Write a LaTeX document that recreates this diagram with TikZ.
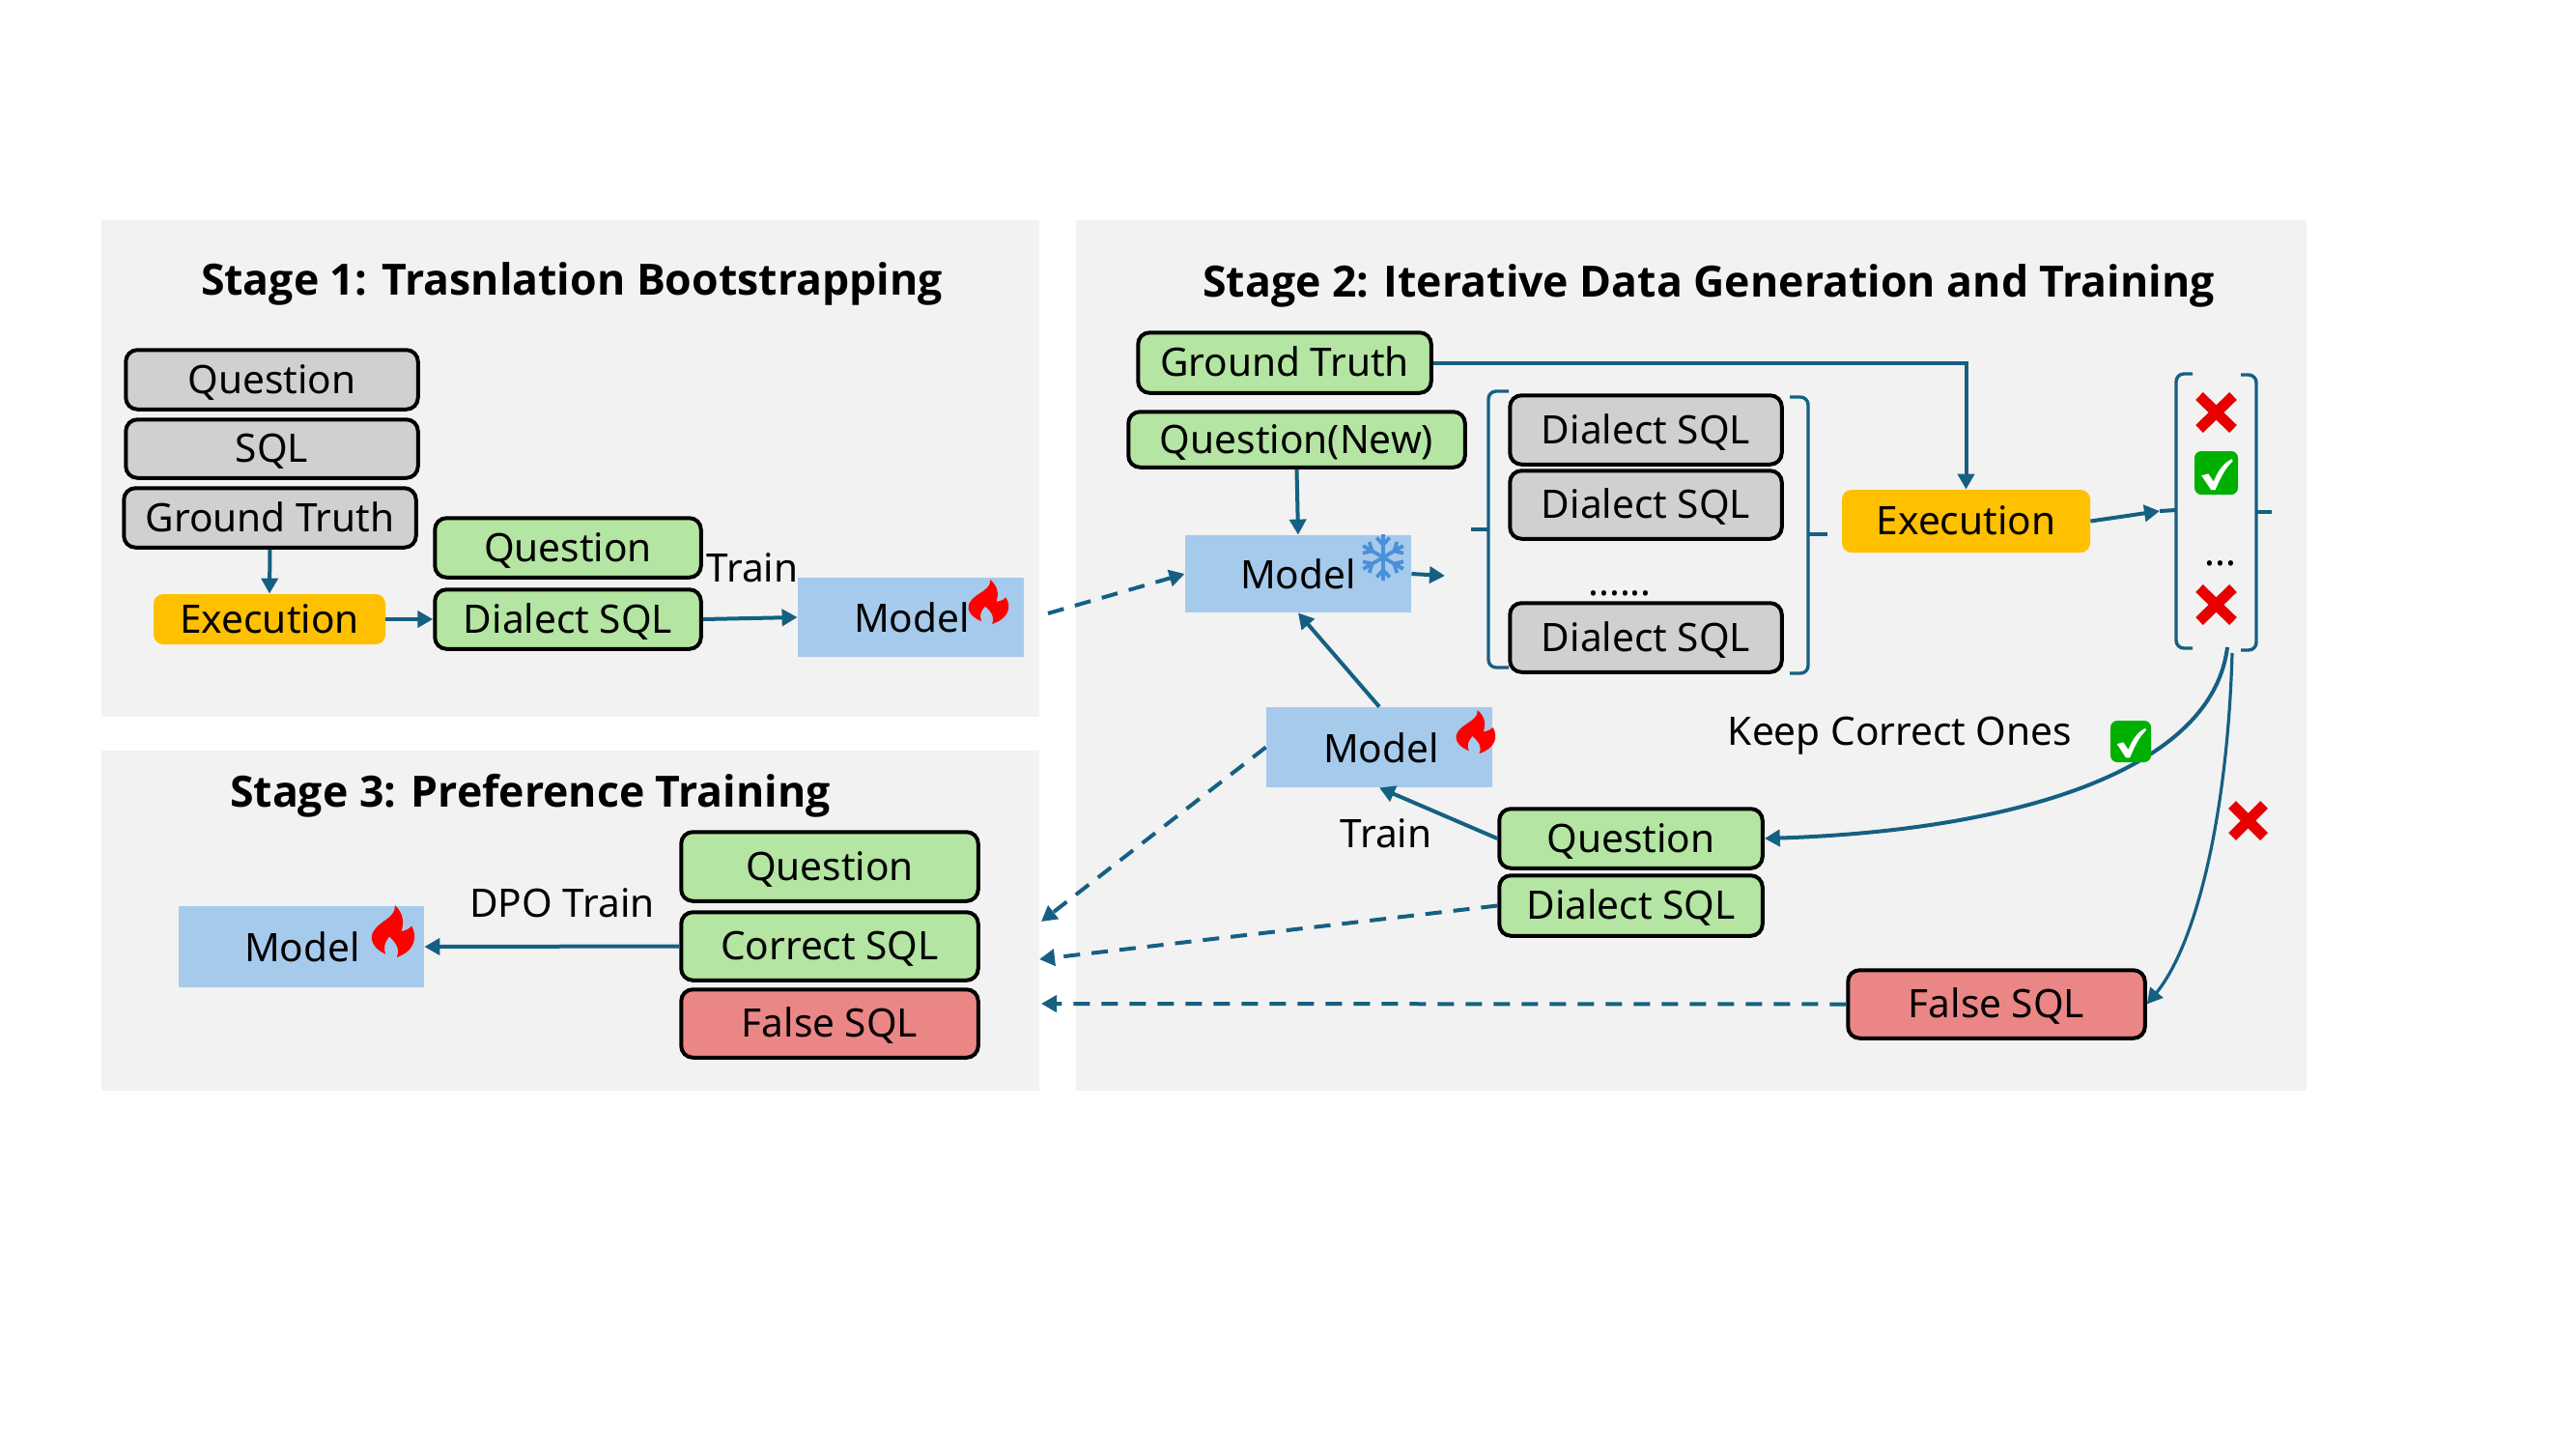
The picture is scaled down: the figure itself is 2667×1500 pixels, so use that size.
\documentclass[tikz,border=0pt]{standalone}
\usepackage{fontspec}
\setmainfont{Noto Sans}
\newfontfamily\titlefont[Ligatures=NoCommon]{Open Sans}
\usetikzlibrary{arrows.meta}
\definecolor{teal}{HTML}{156082}
\definecolor{pgray}{HTML}{F2F2F2}
\definecolor{bgray}{HTML}{D0D0D0}
\definecolor{bgreen}{HTML}{B4E5A2}
\definecolor{byellow}{HTML}{FFC000}
\definecolor{bblue}{HTML}{A6CAEC}
\definecolor{bred}{HTML}{EB8686}
\definecolor{flake}{HTML}{4A90D9}
\definecolor{okgreen}{HTML}{00B000}
\definecolor{xred}{HTML}{E80000}
\tikzset{
  boxbase/.style={rounded corners=6pt,inner sep=0pt,text height=14pt,text depth=0pt,font=\fontsize{20.3}{24}\selectfont,text=black},
  graybox/.style={boxbase,draw=black,line width=2pt,fill=bgray},
  greenbox/.style={boxbase,draw=black,line width=2pt,fill=bgreen},
  redbox/.style={boxbase,draw=black,line width=2pt,fill=bred},
  execbox/.style={boxbase,fill=byellow,rounded corners=5pt},
  modelbox/.style={fill=bblue,inner sep=0pt},
  panel/.style={fill=pgray,inner sep=0pt},
  lbl/.style={anchor=base,inner sep=0pt,font=\fontsize{20.3}{24}\selectfont},
  ttl/.style={anchor=base,inner sep=0pt,font=\titlefont\fontsize{22.3}{26}\selectfont\bfseries},
  conn/.style={draw=teal,line width=2pt,-{Triangle[length=8pt,width=8.5pt]}},
  dconn/.style={conn,dash pattern=on 8.5pt off 6pt},
  bracket/.style={draw=teal,line width=1.7pt,rounded corners=4pt},
  stub/.style={draw=teal,line width=2pt}
}
\newcommand{\pbx}[7]{\node[#2,minimum width={(#5-#3)*0.5pt},minimum height={(#6-#4)*0.5pt}] (#1) at ({(#3+#5)/2},{(#4+#6)/2}) {#7};}
\newcommand{\bbx}[7]{\node[#2,minimum width={(#5-#3-2.5)*0.5pt},minimum height={(#6-#4-2.5)*0.5pt}] (#1) at ({(#3+#5)/2},{(#4+#6)/2}) {#7};}
% x1 y1 w h
\newcommand{\flame}[4]{\begin{scope}[shift={(#1,#2)},x={0.05pt*#3},y={-0.03125pt*#4}]
\fill[red] (5.6,0) .. controls (7.4,2.5) and (7.6,5) .. (7,8) .. controls (7.8,7.8) and (8.6,7.4) .. (9.2,6.4) .. controls (10.5,9.5) and (10,14) .. (6,16) .. controls (6.8,13.5) and (5.8,11.5) .. (4.4,9.6) .. controls (3.4,11.5) and (3,13) .. (3.6,15) .. controls (1,13.5) and (-0.5,10) .. (1.5,7) .. controls (3,4.5) and (5.8,3.5) .. (5.6,0) -- cycle;
\end{scope}}
\newcommand{\crossmark}[4]{\draw[xred,line width=5.5pt] (#1+5,#2+5) -- (#1+#3-5,#2+#4-5) (#1+#3-5,#2+5) -- (#1+5,#2+#4-5);}
\newcommand{\checkbadge}[4]{\fill[okgreen,rounded corners=3.5pt] (#1,#2) rectangle (#1+#3,#2+#4);
\begin{scope}[shift={(#1,#2)},x={0.05pt*#3},y={-0.05pt*#4}]
\fill[white] (1.6,5.6) -- (3.2,5.2) -- (4.4,7) .. controls (5.4,4.5) and (6.6,2.8) .. (8.6,1.8) -- (8.8,2.3) .. controls (7,4) and (5.8,6.5) .. (4.8,8.9) -- (3.8,8.9) -- cycle;
\end{scope}}
\newcommand{\snowflake}[3]{\begin{scope}[shift={(#1,#2)}]
\foreach \a in {30,90,150,210,270,330}{
\draw[flake,line width=1.9pt,rotate=\a] (0,0) -- (#3,0) (#3*0.55,0) -- (#3*0.85,#3*0.28) (#3*0.55,0) -- (#3*0.85,-#3*0.28);}
\end{scope}}
\begin{document}
\begin{tikzpicture}[x=0.5pt,y=-0.5pt]
\useasboundingbox (0,0) rectangle (2667,1500);
% panels
\pbx{p1}{panel}{105}{228}{1076}{742}{}
\pbx{p3}{panel}{105}{777}{1076}{1129}{}
\pbx{p2}{panel}{1114}{228}{2388}{1129}{}
% titles
\node[ttl] (t1) at (592,305) {Stage 1: Trasnlation Bootstrapping};
\node[ttl] (t2) at (1769,307) {Stage 2: Iterative Data Generation and Training};
\node[ttl] (t3) at (549,835) {Stage 3: Preference Training};
% stage 1
\bbx{q1}{graybox}{129}{361}{434}{425}{Question}
\bbx{s1}{graybox}{129}{433}{434}{496}{SQL}
\bbx{g1}{graybox}{127}{504}{432}{568}{Ground Truth}
\pbx{e1}{execbox}{159}{615}{399}{667}{Execution}
\bbx{qa}{greenbox}{449}{535}{727}{599}{Question}
\bbx{da}{greenbox}{449}{609}{727}{673}{Dialect SQL}
\pbx{m1}{modelbox}{826}{598}{1060}{680}{}
\node[lbl] (m1t) at (944,654) {Model};
\flame{1000}{600}{45}{46}
\node[lbl] (tr1) at (779,602) {Train};
\draw[conn] (g1.south) -- (e1.north);
\draw[conn] (e1.east) -- (da.west);
\draw[conn] (da.east) -- (m1.west);
% stage 3
\bbx{q3}{greenbox}{704}{860}{1014}{934}{Question}
\bbx{c3}{greenbox}{704}{943}{1014}{1016}{Correct SQL}
\bbx{f3}{redbox}{704}{1023}{1014}{1096}{False SQL}
\pbx{m3}{modelbox}{185}{938}{439}{1022}{}
\node[lbl] (m3t) at (313,995) {Model};
\flame{382}{937}{48}{54}
\node[lbl] (dpo) at (582,949) {DPO Train};
\draw[conn] (c3.west) -- (m3.east);
% stage 2 brackets
\coordinate (gp) at (1496,596);
\draw[bracket] (1562,405) -- (1541,405) -- (1541,691) -- (1562,691);
\draw[stub] (1523,548) -- (1541,548);
\draw[bracket] (1853,411) -- (1872,411) -- (1872,697) -- (1853,697);
\draw[stub] (1872,553) -- (1892,553);
\draw[bracket] (2270,387) -- (2253,387) -- (2253,671) -- (2270,671);
\coordinate (lb2t) at (2236,529);
\draw[stub] (lb2t) -- (2253,528);
\draw[bracket] (2320,388) -- (2336,388) -- (2336,673) -- (2320,673);
\draw[stub] (2336,530) -- (2352,530);
% stage 2
\bbx{g2}{greenbox}{1177}{343}{1483}{408}{Ground Truth}
\bbx{qn}{greenbox}{1167}{425}{1518}{485}{Question(New)}
\pbx{m2}{modelbox}{1227}{554}{1461}{634}{}
\node[lbl] (m2t) at (1344,609) {Model};
\snowflake{1432}{577}{24}
\bbx{d1}{graybox}{1562}{408}{1846}{482}{Dialect SQL}
\bbx{d2}{graybox}{1562}{486}{1846}{559}{Dialect SQL}
\node[lbl] (dots1) at (1677,616) {......};
\bbx{d3}{graybox}{1562}{623}{1846}{697}{Dialect SQL}
\pbx{e2}{execbox}{1907}{507}{2164}{572}{Execution}
\crossmark{2272}{405}{45}{44}
\checkbadge{2272}{467}{45}{45}
\node[lbl] (dots2) at (2299,585) {...};
\crossmark{2272}{604}{45}{44}
\pbx{m4}{modelbox}{1311}{732}{1545}{815}{}
\node[lbl] (m4t) at (1430,789) {Model};
\flame{1505}{735}{44}{45}
\node[lbl] (tr2) at (1435,877) {Train};
\node[lbl] (keep) at (1967,771) {Keep Correct Ones};
\bbx{q2}{greenbox}{1551}{836}{1826}{900}{Question}
\bbx{d4}{greenbox}{1551}{905}{1826}{970}{Dialect SQL}
\bbx{f2}{redbox}{1912}{1003}{2222}{1076}{False SQL}
\coordinate (bk) at (2306,670);
\coordinate (bk2) at (2311,676);
\draw[conn] (bk) .. controls (2290,800) and (2080,860) .. (q2.east);
\checkbadge{2185}{746}{42}{43}
\draw[conn,line width=1.6pt] (bk2) .. controls (2306,850) and (2272,980) .. (f2.east);
\crossmark{2306}{828}{43}{43}
\draw[conn] (qn.south) -- (m2.north);
\draw[conn] (m2.east) -- (gp);
\draw[conn] (g2.east) -| (e2.north);
\draw[conn] (e2.east) -- (lb2t);
\draw[conn] (m4.north) -- (m2.south);
\draw[conn] (q2.west) -- (m4.south);
\coordinate (s0) at (1085,635);
\coordinate (t1a) at (1078,954);
\coordinate (t2a) at (1076,993);
\coordinate (t3a) at (1078,1039);
\draw[dconn] (s0) -- (m2.west);
\draw[dconn] (m4.west) -- (t1a);
\draw[dconn] (d4.west) -- (t2a);
\draw[dconn] (f2.west) -- (t3a);
\end{tikzpicture}
\end{document}
